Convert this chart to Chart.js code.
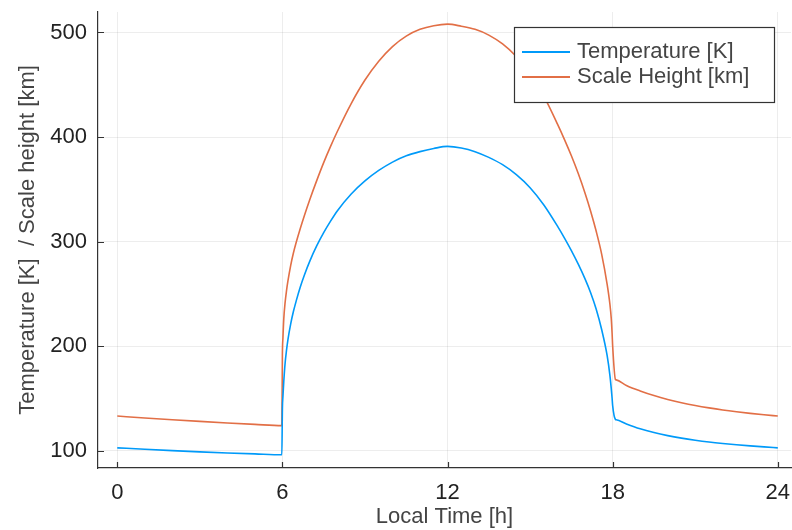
<!DOCTYPE html>
<html>
<head>
<meta charset="utf-8">
<script src="https://cdn.jsdelivr.net/npm/chart.js@4"></script>
<style>
  html, body { margin: 0; padding: 0; background: #fff; }
</style>
</head>
<body>
<canvas id="tempChart" width="792" height="530"></canvas>
<script>
// local time [h] and the two profiles sampled at those times
const localTime = [0, 1, 2, 3, 4, 5, 5.98,
  6.0, 6.02, 6.05, 6.1, 6.15, 6.2, 6.3, 6.4, 6.5, 6.65, 6.8, 7.0, 7.25, 7.5, 7.75, 8.0, 8.5, 9.0, 9.5, 10.0, 10.5, 11.0, 11.5, 12.0,
  12.5, 13.0, 13.5, 14.0, 14.5, 15.0, 15.5, 16.0, 16.25, 16.5, 16.75, 17.0, 17.2, 17.4, 17.6, 17.8, 17.9, 17.95, 17.98, 18.0, 18.1,
  18.13, 18.5, 19.0, 19.5, 20.0, 20.5, 21.0, 21.5, 22.0, 22.5, 23.0, 23.5, 24.0];

const temperature = [102.6, 101.2, 99.9, 98.7, 97.7, 96.8, 96.0,
  140, 152, 166, 184, 196, 206, 221, 233, 243, 256.5, 268, 281.5, 296, 308.5, 319.5, 329.5, 345.5, 358, 368, 376, 382, 386, 389, 391,
  389.5, 386, 380.5, 373.5, 364, 351.5, 335, 314.5, 303.3, 291.3, 278.3, 264, 251, 235.4, 215.8, 190.8, 172, 159, 150, 143, 129.8,
  129.5, 125.5, 120.8, 117.2, 114.3, 111.9, 109.9, 108.2, 106.8, 105.6, 104.5, 103.5, 102.6];

const scaleHeight = [133.0, 131.2, 129.5, 127.9, 126.4, 125.0, 123.8,
  192, 208, 226, 242, 253, 262, 277, 289, 299, 312.5, 325, 340.5, 358.5, 375.5, 391, 405.5, 432, 454.5, 472.5, 486.5, 496.5, 503, 506.5, 508,
  506, 503, 497.5, 489, 477, 461, 439, 412, 397.5, 382, 365, 346, 329, 310, 288, 259, 240, 226, 212, 200, 168,
  167.6, 162.3, 157, 152.6, 148.9, 145.8, 143.1, 140.8, 138.8, 137.1, 135.6, 134.2, 133.0];

const xTicks = [0, 6, 12, 18, 24];
const yTicks = [100, 200, 300, 400, 500];

const FONT = 'Liberation Sans, Arial, sans-serif';
const BLUE = '#009AF9';
const ORANGE = '#E26F46';

const toPoints = ys => localTime.map((t, i) => ({ x: t, y: ys[i] }));

// small tick marks pointing into the plot, like the GR backend
const innerTicks = {
  id: 'innerTicks',
  afterDatasetsDraw(chart) {
    const { ctx, chartArea: a, scales: { x, y } } = chart;
    ctx.save();
    ctx.strokeStyle = '#333';
    ctx.lineWidth = 1.2;
    ctx.beginPath();
    xTicks.forEach(v => {
      const px = Math.round(x.getPixelForValue(v)) + 0.5;
      ctx.moveTo(px, a.bottom);
      ctx.lineTo(px, a.bottom - 6);
    });
    yTicks.forEach(v => {
      const py = Math.round(y.getPixelForValue(v)) + 0.5;
      ctx.moveTo(a.left, py);
      ctx.lineTo(a.left + 6, py);
    });
    ctx.stroke();
    ctx.restore();
  }
};

// framed legend in the upper right corner of the plot
const boxLegend = {
  id: 'boxLegend',
  afterDraw(chart) {
    const { ctx, chartArea: a } = chart;
    const w = 260, h = 75;
    const x0 = a.right - 17 - w, y0 = a.top + 15;
    ctx.save();
    ctx.fillStyle = '#fff';
    ctx.fillRect(x0, y0, w, h);
    ctx.strokeStyle = '#333';
    ctx.lineWidth = 1.2;
    ctx.strokeRect(x0 + 0.5, y0 + 0.5, w, h);
    ctx.font = '22px ' + FONT;
    ctx.textBaseline = 'middle';
    ctx.textAlign = 'left';
    chart.data.datasets.forEach((ds, i) => {
      const ly = y0 + 25 + i * 25;
      ctx.strokeStyle = ds.borderColor;
      ctx.lineWidth = 2;
      ctx.beginPath();
      ctx.moveTo(x0 + 8, ly);
      ctx.lineTo(x0 + 56, ly);
      ctx.stroke();
      ctx.fillStyle = '#444';
      ctx.fillText(ds.label, x0 + 63, ly);
    });
    ctx.restore();
  }
};

const lineStyle = { borderWidth: 1.6, pointRadius: 0, cubicInterpolationMode: 'monotone' };

new Chart(document.getElementById('tempChart'), {
  type: 'line',
  data: {
    datasets: [
      { label: 'Temperature [K]', data: toPoints(temperature), borderColor: BLUE, ...lineStyle },
      { label: 'Scale Height [km]', data: toPoints(scaleHeight), borderColor: ORANGE, ...lineStyle }
    ]
  },
  options: {
    responsive: false,
    animation: false,
    layout: { padding: { top: 12, right: 1, left: 0, bottom: 0 } },
    plugins: { legend: { display: false }, tooltip: { enabled: false } },
    scales: {
      x: {
        type: 'linear',
        min: -0.7,
        max: 24.48,
        afterBuildTicks: s => { s.ticks = xTicks.map(v => ({ value: v })); },
        afterFit: s => { s.height = 62; s.paddingLeft = 0; s.paddingRight = 0; },
        grid: { color: 'rgba(0,0,0,0.07)', lineWidth: 1, drawTicks: false },
        border: { display: true, color: '#333', width: 1.2 },
        ticks: { padding: 12, color: '#222', font: { family: FONT, size: 22 } },
        title: { display: true, text: 'Local Time [h]', color: '#444', padding: { top: 0, bottom: 0 }, font: { family: FONT, size: 22 } }
      },
      y: {
        min: 83.3,
        max: 519.6,
        afterBuildTicks: s => { s.ticks = yTicks.map(v => ({ value: v })); },
        afterFit: s => { s.width = 98; s.paddingTop = 0; s.paddingBottom = 0; },
        grid: { color: 'rgba(0,0,0,0.07)', lineWidth: 1, drawTicks: false },
        border: { display: true, color: '#333', width: 1.2 },
        ticks: { padding: 11, color: '#222', font: { family: FONT, size: 22 } },
        title: { display: true, text: 'Temperature [K]  / Scale height [km]', color: '#444', padding: { top: 15, bottom: 0 }, font: { family: FONT, size: 22 } }
      }
    }
  },
  plugins: [innerTicks, boxLegend]
});
</script>
</body>
</html>
